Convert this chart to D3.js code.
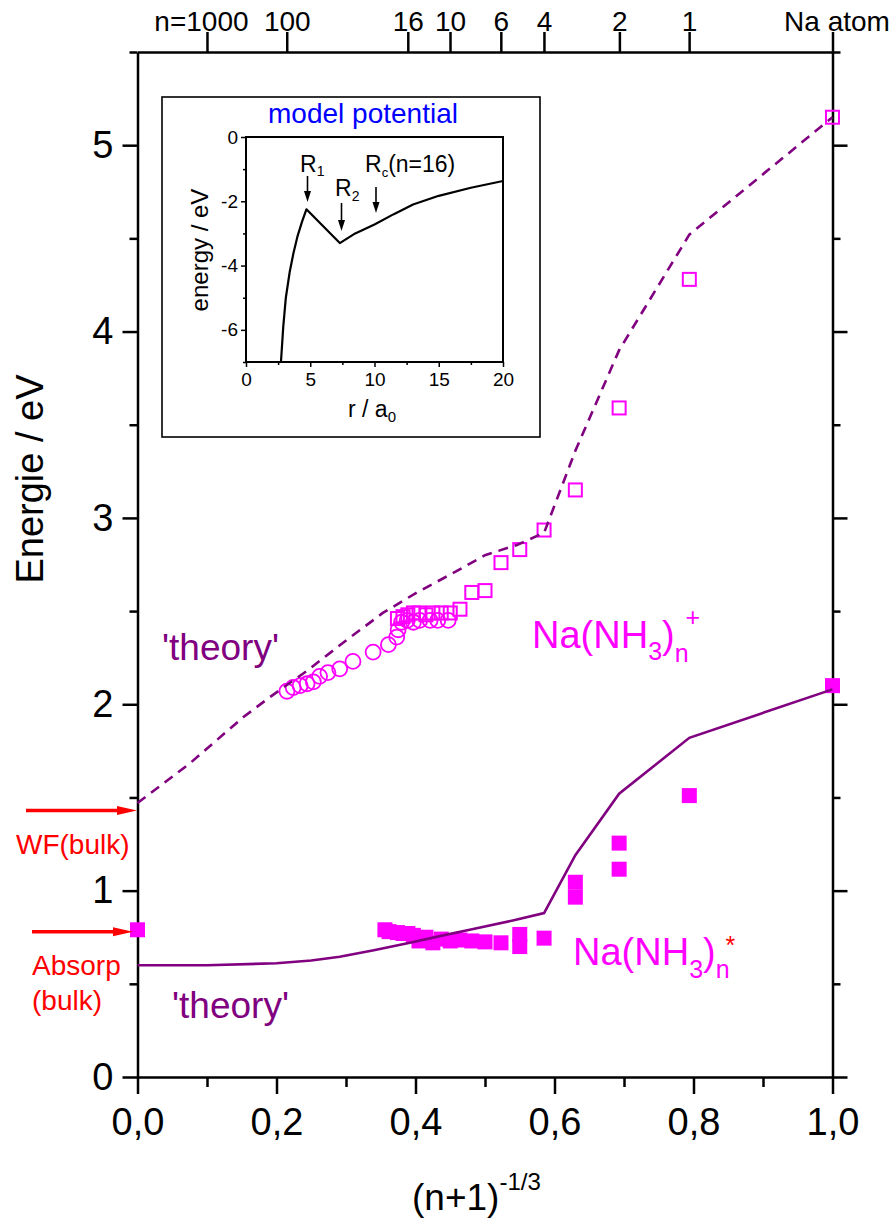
<!DOCTYPE html>
<html>
<head>
<meta charset="utf-8">
<script src="https://cdn.jsdelivr.net/npm/d3@7"></script>
<style>
  body { margin: 0; background: #fff; }
  svg { display: block; }
  text { font-family: "Liberation Sans", Arial, sans-serif; }
</style>
</head>
<body>
<div id="chart"></div>
<script>
// --- data ---
// x = (n+1)^(-1/3), energies in eV
const topTickN = [1000, 100, 16, 10, 6, 4, 2, 1, 0];
const topTickLabels = ["n=1000", "100", "16", "10", "6", "4", "2", "1", "Na atom"];

const xMajorTicks = [0, 0.2, 0.4, 0.6, 0.8, 1.0];
const xMinorTicks = [0.1, 0.3, 0.5, 0.7, 0.9];
const yMajorTicks = [0, 1, 2, 3, 4, 5];
const yMinorTicks = [0.5, 1.5, 2.5, 3.5, 4.5, 5.5];

// Na(NH3)n+ ionisation: small clusters (open squares)
const ionSqX = [1.0, 0.794, 0.693, 0.630, 0.585, 0.550, 0.523, 0.500, 0.481, 0.464, 0.450, 0.437, 0.425, 0.415, 0.405, 0.397, 0.389, 0.382, 0.374];
const ionSqE = [5.15, 4.28, 3.59, 3.15, 2.935, 2.83, 2.76, 2.61, 2.60, 2.51, 2.49, 2.49, 2.49, 2.48, 2.49, 2.49, 2.48, 2.47, 2.46];

// Na(NH3)n+ ionisation: large clusters (open circles)
const ionCircX = [0.215, 0.224, 0.234, 0.244, 0.253, 0.262, 0.274, 0.291, 0.310, 0.339, 0.361, 0.373, 0.375, 0.380, 0.388, 0.397, 0.406, 0.421, 0.432, 0.447];
const ionCircE = [2.07, 2.09, 2.10, 2.11, 2.12, 2.15, 2.17, 2.19, 2.23, 2.28, 2.32, 2.36, 2.40, 2.44, 2.45, 2.44, 2.45, 2.45, 2.45, 2.45];

// Na(NH3)n* excitation (filled squares)
const excX = [0, 1.0, 0.794, 0.693, 0.693, 0.630, 0.630, 0.585, 0.550, 0.550, 0.523, 0.500, 0.481, 0.464, 0.450, 0.437, 0.425, 0.415, 0.405, 0.397, 0.389, 0.382, 0.374, 0.362, 0.356];
const excE = [0.79, 2.10, 1.51, 1.255, 1.115, 1.045, 0.965, 0.745, 0.765, 0.70, 0.72, 0.725, 0.73, 0.735, 0.73, 0.74, 0.72, 0.75, 0.73, 0.76, 0.77, 0.77, 0.775, 0.78, 0.79];

// 'theory' curves
const theoryIonX = [0, 0.076, 0.152, 0.191, 0.244, 0.301, 0.353, 0.402, 0.457, 0.500, 0.546, 0.585, 0.630, 0.693, 0.794, 1.0];
const theoryIonE = [1.47, 1.685, 1.93, 2.04, 2.18, 2.345, 2.49, 2.60, 2.71, 2.80, 2.855, 2.92, 3.36, 3.90, 4.52, 5.15];
const theoryExcX = [0, 0.1, 0.2, 0.25, 0.291, 0.34, 0.392, 0.44, 0.478, 0.540, 0.585, 0.630, 0.693, 0.794, 1.0];
const theoryExcE = [0.60, 0.60, 0.61, 0.625, 0.645, 0.68, 0.72, 0.76, 0.79, 0.84, 0.88, 1.19, 1.52, 1.82, 2.08];

// bulk values marked by arrows
const wfBulk = 1.43;
const absorpBulk = 0.78;

// inset: model potential
const potR = [2.72, 2.9, 3.1, 3.4, 3.7, 4.0, 4.35, 4.7, 7.3, 8.5, 10.0, 11.5, 13.0, 15.0, 17.5, 20.0];
const potE = [-7.0, -5.9, -5.0, -4.2, -3.6, -3.1, -2.65, -2.25, -3.3, -3.0, -2.72, -2.4, -2.1, -1.83, -1.58, -1.37];
const insetXTicks = [0, 5, 10, 15, 20];
const insetXMinor = [2.5, 7.5, 12.5, 17.5];
const insetYTicks = [0, -2, -4, -6];
const insetYMinor = [-1, -3, -5, -7];

const width = 893, height = 1220;
const magenta = "#ff00ff", purple = "#800080", red = "#ff0000";

const svg = d3.select("#chart").append("svg")
    .attr("width", width)
    .attr("height", height);

const x = d3.scaleLinear().domain([0, 1]).range([137.5, 832.5]);
const y = d3.scaleLinear().domain([0, 5.5]).range([1077, 52]);

const commaFmt = d => d.toFixed(1).replace(".", ",");

function styleAxis(g, fontSize) {
    g.attr("font-family", null).attr("font-size", fontSize);
    g.selectAll("text").attr("fill", "#000");
    g.selectAll("line").attr("stroke", "#000").attr("stroke-width", 2.5);
    g.select(".domain").attr("stroke", "#000").attr("stroke-width", 2.5);
}

// ----- inset -----
const inset = svg.append("g");
inset.append("rect")
    .attr("x", 162).attr("y", 97).attr("width", 378).attr("height", 340)
    .attr("fill", "#fff").attr("stroke", "#000").attr("stroke-width", 1.6);

const ix = d3.scaleLinear().domain([0, 20]).range([246, 503]);
const iy = d3.scaleLinear().domain([-7, 0]).range([362, 137]);

inset.append("text")
    .attr("x", 363).attr("y", 123)
    .attr("text-anchor", "middle")
    .attr("font-size", 28)
    .attr("fill", "#0000ff")
    .text("model potential");

function styleInset(g) {
    g.attr("font-family", null).attr("font-size", 19);
    g.selectAll("line").attr("stroke-width", 1.5);
    g.select(".domain").remove();
}

inset.append("g")
    .attr("transform", "translate(0,362)")
    .call(d3.axisBottom(ix).tickValues(insetXTicks).tickSize(5).tickPadding(6).tickFormat(d => String(d)))
    .call(styleInset);
inset.append("g")
    .attr("transform", "translate(0,362)")
    .call(d3.axisBottom(ix).tickValues(insetXMinor).tickSize(3).tickFormat(""))
    .call(styleInset);
inset.append("g")
    .attr("transform", "translate(246,0)")
    .call(d3.axisLeft(iy).tickValues(insetYTicks).tickSize(5).tickPadding(3).tickFormat(d => String(d)))
    .call(styleInset);
inset.append("g")
    .attr("transform", "translate(246,0)")
    .call(d3.axisLeft(iy).tickValues(insetYMinor).tickSize(3).tickFormat(""))
    .call(styleInset);

inset.append("rect")
    .attr("x", ix(0)).attr("y", iy(0))
    .attr("width", ix(20) - ix(0)).attr("height", iy(-7) - iy(0))
    .attr("fill", "none").attr("stroke", "#000").attr("stroke-width", 2);

const potLine = d3.line().x(d => ix(d[0])).y(d => iy(d[1]));
inset.append("path")
    .datum(d3.zip(potR, potE))
    .attr("d", potLine)
    .attr("fill", "none")
    .attr("stroke", "#000")
    .attr("stroke-width", 2.2)
    .attr("stroke-linejoin", "round");

// inset axis titles
inset.append("text")
    .attr("transform", "translate(208,250) rotate(-90)")
    .attr("text-anchor", "middle")
    .attr("font-size", 24)
    .text("energy / eV");
inset.append("text")
    .attr("x", 348).attr("y", 417)
    .attr("font-size", 23)
    .call(t => t.append("tspan").text("r / a"))
    .call(t => t.append("tspan").attr("font-size", 15).attr("dy", 5).text("0"));

// R labels with arrows
function insetArrow(xp, y0, y1) {
    inset.append("line")
        .attr("x1", xp).attr("x2", xp).attr("y1", y0).attr("y2", y1 - 8)
        .attr("stroke", "#000").attr("stroke-width", 1.6);
    inset.append("path")
        .attr("d", `M${xp - 3.5},${y1 - 11}L${xp + 3.5},${y1 - 11}L${xp},${y1}Z`)
        .attr("fill", "#000");
}
inset.append("text").attr("x", 300).attr("y", 172).attr("font-size", 23)
    .call(t => t.append("tspan").text("R"))
    .call(t => t.append("tspan").attr("font-size", 14).attr("dy", 4).text("1"));
insetArrow(307.5, 176, 202);
inset.append("text").attr("x", 335).attr("y", 196).attr("font-size", 23)
    .call(t => t.append("tspan").text("R"))
    .call(t => t.append("tspan").attr("font-size", 14).attr("dy", 5).text("2"));
insetArrow(341.5, 203, 231);
inset.append("text").attr("x", 365).attr("y", 172).attr("font-size", 23)
    .call(t => t.append("tspan").text("R"))
    .call(t => t.append("tspan").attr("font-size", 13).attr("dy", 5).text("c"))
    .call(t => t.append("tspan").attr("dy", -5).attr("dx", 0).text("(n=16)"));
insetArrow(376, 187, 213);

// ----- main axes -----
svg.append("g")
    .attr("transform", `translate(0,${y(0)})`)
    .call(d3.axisBottom(x).tickValues(xMajorTicks).tickSize(17).tickPadding(14).tickSizeOuter(0).tickFormat(commaFmt))
    .call(g => styleAxis(g, 38));
svg.append("g")
    .attr("transform", `translate(0,${y(0)})`)
    .call(d3.axisBottom(x).tickValues(xMinorTicks).tickSize(10).tickFormat(""))
    .call(g => styleAxis(g, 38))
    .call(g => g.select(".domain").remove());

svg.append("g")
    .attr("transform", `translate(${x(0)},0)`)
    .call(d3.axisLeft(y).tickValues(yMajorTicks).tickSize(15).tickPadding(9).tickSizeOuter(0).tickFormat(d3.format("d")))
    .call(g => styleAxis(g, 38));
svg.append("g")
    .attr("transform", `translate(${x(0)},0)`)
    .call(d3.axisLeft(y).tickValues(yMinorTicks).tickSize(8).tickFormat(""))
    .call(g => styleAxis(g, 38))
    .call(g => g.select(".domain").remove());

svg.append("g")
    .attr("transform", `translate(${x(1)},0)`)
    .call(d3.axisRight(y).tickValues(yMajorTicks).tickSize(15).tickSizeOuter(0).tickFormat(""))
    .call(g => styleAxis(g, 38));
svg.append("g")
    .attr("transform", `translate(${x(1)},0)`)
    .call(d3.axisRight(y).tickValues(yMinorTicks).tickSize(8).tickFormat(""))
    .call(g => styleAxis(g, 38))
    .call(g => g.select(".domain").remove());

// top axis: cluster size n
const topX = topTickN.map(n => Math.pow(n + 1, -1 / 3));
svg.append("g")
    .attr("transform", `translate(0,${y(5.5)})`)
    .call(d3.axisTop(x).tickValues(topX).tickSize(20).tickPadding(1).tickSizeOuter(0)
        .tickFormat((d, i) => topTickLabels[i]))
    .call(g => styleAxis(g, 28))
    .call(g => g.selectAll(".tick text").attr("dx", (d, i) => i === 0 ? -6 : (i === 8 ? 4 : 0)));

// axis titles
svg.append("text")
    .attr("transform", "translate(43,479) rotate(-90)")
    .attr("text-anchor", "middle")
    .attr("font-size", 38)
    .text("Energie / eV");
svg.append("text")
    .attr("x", 412).attr("y", 1210)
    .attr("font-size", 37)
    .call(t => t.append("tspan").text("(n+1)"))
    .call(t => t.append("tspan").attr("font-size", 24).attr("dy", -20).text("-1/3"));

// ----- markers -----
const plot = svg.append("g");
plot.append("g").selectAll("rect")
    .data(d3.zip(excX, excE))
    .join("rect")
    .attr("x", d => x(d[0]) - 7.5).attr("y", d => y(d[1]) - 7.5)
    .attr("width", 15).attr("height", 15)
    .attr("fill", magenta);

plot.append("g").selectAll("rect")
    .data(d3.zip(ionSqX, ionSqE))
    .join("rect")
    .attr("x", d => x(d[0]) - 6.5).attr("y", d => y(d[1]) - 6.5)
    .attr("width", 13).attr("height", 13)
    .attr("fill", "none").attr("stroke", magenta).attr("stroke-width", 2);

plot.append("g").selectAll("circle")
    .data(d3.zip(ionCircX, ionCircE))
    .join("circle")
    .attr("cx", d => x(d[0])).attr("cy", d => y(d[1]))
    .attr("r", 7.5)
    .attr("fill", "none").attr("stroke", magenta).attr("stroke-width", 1.8);

// ----- theory curves -----
const line = d3.line().x(d => x(d[0])).y(d => y(d[1]));
plot.append("path")
    .datum(d3.zip(theoryIonX, theoryIonE))
    .attr("d", line)
    .attr("fill", "none")
    .attr("stroke", purple)
    .attr("stroke-width", 2.6)
    .attr("stroke-dasharray", "10,7");
plot.append("path")
    .datum(d3.zip(theoryExcX, theoryExcE))
    .attr("d", line)
    .attr("fill", "none")
    .attr("stroke", purple)
    .attr("stroke-width", 2.6);

// ----- annotations -----
function bulkArrow(x0, yv, tip) {
    const yp = y(yv);
    svg.append("line")
        .attr("x1", x0).attr("x2", tip - 18).attr("y1", yp).attr("y2", yp)
        .attr("stroke", red).attr("stroke-width", 3.5);
    svg.append("path")
        .attr("d", `M${tip - 20},${yp - 4.5}L${tip},${yp}L${tip - 20},${yp + 4.5}Z`)
        .attr("fill", red);
}
bulkArrow(26, wfBulk, 137);
bulkArrow(32, absorpBulk, 133);

svg.append("text").attr("x", 16).attr("y", 854).attr("font-size", 28).attr("fill", red).text("WF(bulk)");
svg.append("text").attr("x", 32).attr("y", 975).attr("font-size", 28).attr("fill", red).text("Absorp");
svg.append("text").attr("x", 32).attr("y", 1010).attr("font-size", 28).attr("fill", red).text("(bulk)");

svg.append("text").attr("x", 162).attr("y", 660).attr("font-size", 37).attr("fill", purple).text("'theory'");
svg.append("text").attr("x", 172).attr("y", 1018).attr("font-size", 37).attr("fill", purple).text("'theory'");

svg.append("text")
    .attr("x", 532).attr("y", 648)
    .attr("font-size", 38)
    .attr("fill", magenta)
    .call(t => t.append("tspan").text("Na(NH"))
    .call(t => t.append("tspan").attr("font-size", 25).attr("dy", 12).text("3"))
    .call(t => t.append("tspan").attr("dy", -12).text(")"))
    .call(t => t.append("tspan").attr("font-size", 25).attr("dy", 14).text("n"))
    .call(t => t.append("tspan").attr("font-size", 25).attr("dy", -36).attr("dx", -3).text("+"));

svg.append("text")
    .attr("x", 573).attr("y", 965)
    .attr("font-size", 38)
    .attr("fill", magenta)
    .call(t => t.append("tspan").text("Na(NH"))
    .call(t => t.append("tspan").attr("font-size", 25).attr("dy", 13).text("3"))
    .call(t => t.append("tspan").attr("dy", -13).text(")"))
    .call(t => t.append("tspan").attr("font-size", 25).attr("dy", 13).text("n"))
    .call(t => t.append("tspan").attr("font-size", 25).attr("dy", -24).attr("dx", -4).attr("fill", red).text("*"));
</script>
</body>
</html>
